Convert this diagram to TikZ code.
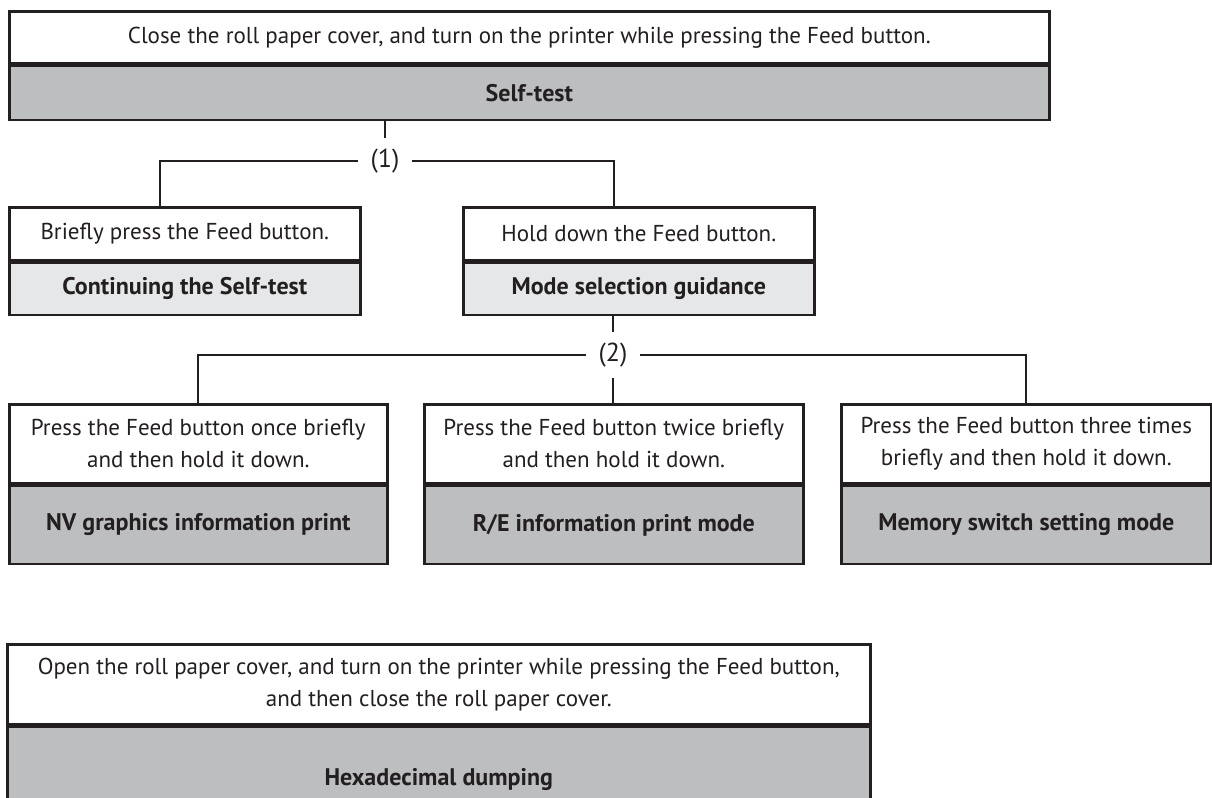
\documentclass[tikz,border=0pt]{standalone}
\usepackage{fontspec}
\setmainfont{PT Sans}
\usetikzlibrary{positioning}
\definecolor{ink}{HTML}{231F20}
\definecolor{darkfill}{HTML}{BCBEC0}
\definecolor{lightfill}{HTML}{E6E7E8}
\tikzset{
  every node/.style={text=ink, font=\fontsize{11.5}{16}\selectfont},
  cmd/.style 2 args={draw=ink, line width=1.3pt, fill=white, align=center, inner sep=0pt,
    anchor=north west, minimum width=#1*0.5pt, minimum height=#2*0.5pt},
  res/.style n args={3}{draw=ink, line width=1.3pt, fill=#3, align=center, inner sep=0pt,
    font=\fontsize{12}{16}\selectfont\bfseries, minimum width=#1*0.5pt, minimum height=#2*0.5pt},
  lab/.style={font=\fontsize{13}{16}\selectfont, inner xsep=6pt, inner ysep=0pt, minimum height=23pt},
  wire/.style={draw=ink, line width=1.1pt},
}
\begin{document}
\begin{tikzpicture}[x=0.5pt, y=-0.5pt]
\useasboundingbox (0,0) rectangle (1212,798);
\clip (0,0) rectangle (1212,798);
% self-test
\node[cmd={1040}{52}] (close) at (8,10) {Close the roll paper cover, and turn on the printer while pressing the Feed button.};
\node[res={1040}{54}{darkfill}, below=0pt of close] (selftest) {Self-test};
% (1)
\node[cmd={351}{53}] (brief) at (8,206) {Briefly press the Feed button.};
\node[res={351}{52}{lightfill}, below=0pt of brief] (cont) {Continuing the Self-test};
\node[cmd={351}{53}] (hold) at (462,206) {Hold down the Feed button.};
\node[res={351}{52}{lightfill}, below=0pt of hold] (mode) {Mode selection guidance};
% (2)
\node[cmd={378}{79}] (once) at (8,403) {Press the Feed button once briefly\\and then hold it down.};
\node[res={378}{78}{darkfill}, below=0pt of once] (nvprint) {NV graphics information print};
\node[cmd={379}{79}] (twice) at (423,403) {Press the Feed button twice briefly\\and then hold it down.};
\node[res={379}{78}{darkfill}, below=0pt of twice] (reprint) {R/E information print mode};
\node[cmd={370}{79}] (three) at (840,403) {Press the Feed button three times\\briefly and then hold it down.};
\node[res={370}{78}{darkfill}, below=0pt of three] (memsw) {Memory switch setting mode};
% hex dump
\node[cmd={863}{80}] (open) at (6,643) {Open the roll paper cover, and turn on the printer while pressing the Feed button,\\and then close the roll paper cover.};
\node[res={863}{106}{darkfill}, below=0pt of open] (hexdump) {Hexadecimal dumping};
% branch labels
\node[lab] (one) at (385,161) {(1)};
\node[lab] (two) at (613,355) {(2)};
\draw[wire] (one.north |- selftest.south) -- (one.north);
\draw[wire] (one.west) -| ([xshift=-12.25pt]brief.north);
\draw[wire] (one.east) -| ([xshift=-12.25pt]hold.north);
\draw[wire] (two.north |- mode.south) -- (two.north);
\draw[wire] (two.west) -| (once.north);
\draw[wire] (two.east) -| (three.north);
\draw[wire] (two.south) -- (twice.north -| two.south);
\end{tikzpicture}
\end{document}
